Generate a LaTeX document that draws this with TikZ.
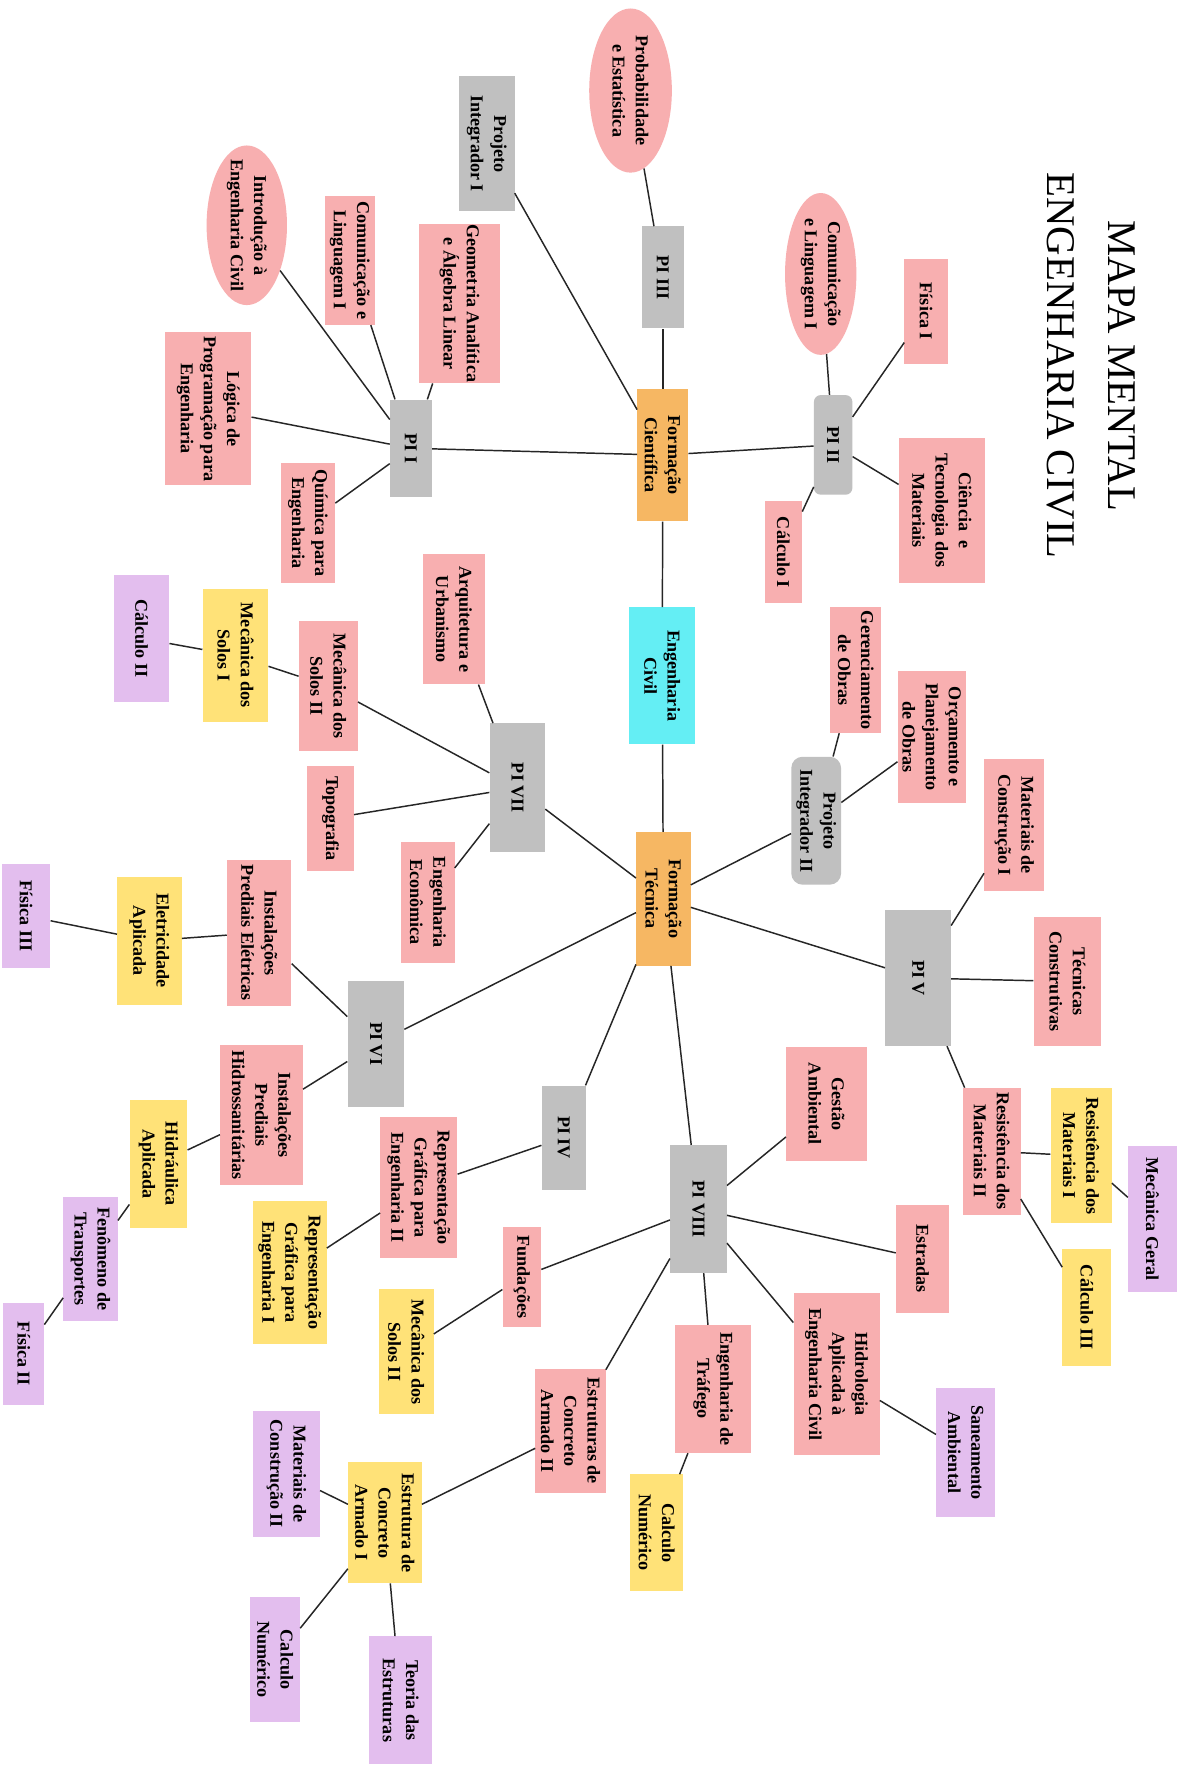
\documentclass[tikz,border=0pt]{standalone}
\usepackage{fontspec}
\setmainfont{Liberation Serif}
\usetikzlibrary{shapes.geometric}
\definecolor{pinkc}{RGB}{248,175,176}
\definecolor{grayc}{RGB}{192,192,192}
\definecolor{orangec}{RGB}{246,183,99}
\definecolor{cyanc}{RGB}{100,238,244}
\definecolor{yellowc}{RGB}{255,226,120}
\definecolor{purplec}{RGB}{227,190,238}
\begin{document}
\begin{tikzpicture}[x=1pt,y=-1pt,
  bx/.style={rectangle, rotate=-90, inner sep=0pt, align=center, font=\bfseries\fontsize{16}{20.5}\selectfont},
  el/.style={ellipse, rotate=-90, inner ysep=0pt, align=center, fill=pinkc, font=\bfseries\fontsize{16}{20.5}\selectfont},
  sz/.style 2 args={minimum height=#1pt, minimum width=#2pt},
  pk/.style={bx, fill=pinkc},
  gr/.style={bx, fill=grayc},
  og/.style={bx, fill=orangec},
  yl/.style={bx, fill=yellowc},
  pu/.style={bx, fill=purplec},
  conn/.style={line width=1.3pt, black!85}]
\useasboundingbox (0,0) rectangle (1053,1568);
\fill[white] (0,0) rectangle (1053,1568);

\node[rotate=-90, align=center, font=\fontsize{36}{54}\selectfont] (title) at (964,323) {MAPA MENTAL\\ENGENHARIA CIVIL};

% centre
\node[bx, fill=cyanc, sz={58}{121}] (ec) at (585,597) {Engenharia\\Civil};
\node[og, sz={45}{117}] (fc) at (585.5,402) {Formação\\Científica};
\node[og, sz={48}{118}] (ft) at (586,794) {Formação\\Técnica};

% Formacao Cientifica
\node[gr, sz={37}{90}] (pi3) at (585.5,245) {PI III};
\node[el, inner xsep=0pt, sz={73}{145}] (prob) at (557,80) {Probabilidade\\e Estatística};
\node[gr, sz={49}{119}] (pi1p) at (430,127) {Projeto\\Integrador I};
\node[gr, rounded corners=6pt, sz={34}{88}] (pi2) at (736,393) {PI II};
\node[gr, sz={37}{86}] (pi1) at (363,396) {PI I};
\node[el, inner xsep=-11pt, sz={71}{141}] (intro) at (218,199) {Introdução à\\Engenharia Civil};
\node[pk, sz={44}{114}] (com1) at (309,230) {Comunicação e\\Linguagem I};
\node[pk, sz={71}{141}] (geo) at (406,268) {Geometria Analítica\\e Álgebra Linear};
\node[pk, sz={76}{135}] (log) at (184,361) {Lógica de\\Programação para\\Engenharia};
\node[pk, sz={48}{106}] (qui) at (272,462) {Química para\\Engenharia};
\node[el, inner xsep=-4pt, sz={63}{143}] (com2) at (725,242) {Comunicação\\e Linguagem I};
\node[pk, sz={38}{93}] (fis1) at (818,275) {Física I};
\node[pk, sz={76}{128}] (cien) at (832,451) {Ciência~~e\\Tecnologia dos\\Materiais};
\node[pk, sz={33}{90}] (calc1) at (692,488) {Cálculo I};

% Formacao Tecnica
\node[gr, rounded corners=10pt, sz={44}{113}] (pi2p) at (721,725) {Projeto\\Integrador II};
\node[pk, sz={45}{111}] (ger) at (756,592) {Gerenciamento\\de Obras};
\node[pk, sz={60}{117}] (orc) at (823,651) {Orçamento e\\Planejamento\\de Obras};
\node[pk, sz={53}{117}] (mat1) at (896,729) {Materiais de\\Construção I};

\node[gr, sz={58}{120}] (pi5) at (811,864) {PI V};
\node[pk, sz={60}{114}] (tec) at (943,867) {Técnicas\\Construtivas};
\node[pk, sz={51}{112}] (res2) at (876,1017) {Resistência dos\\Materiais II};
\node[yl, sz={54}{119}] (res1) at (955,1021) {Resistência dos\\Materiais I};
\node[pu, sz={43}{129}] (mecg) at (1018,1077) {Mecânica Geral};
\node[yl, sz={43}{104}] (calc3) at (960,1155) {Cálculo III};

\node[gr, sz={50}{113}] (pi8) at (617,1068) {PI VIII};
\node[pk, sz={71}{101}] (gest) at (730,975) {Gestão\\Ambiental};
\node[pk, sz={47}{95}] (estr) at (815,1112) {Estradas};
\node[pk, sz={76}{143}] (hidro) at (739,1214) {Hidrologia\\Aplicada à\\Engenharia Civil};
\node[pu, sz={52}{114}] (san) at (853,1283) {Saneamento\\Ambiental};
\node[pk, sz={67}{113}] (traf) at (630,1227) {Engenharia de\\Tráfego};
\node[yl, sz={47}{103}] (cnum1) at (580,1354) {Calculo\\Numérico};
\node[pk, sz={34}{88}] (fund) at (461,1128) {Fundações};
\node[yl, sz={48}{110}] (mso2y) at (359,1194) {Mecânica dos\\Solos II};
\node[pk, sz={62}{110}] (eca2) at (504,1264) {Estruturas de\\Concreto\\Armado II};
\node[yl, sz={65}{107}] (eca1) at (340,1345) {Estrutura de\\Concreto\\Armado I};
\node[pu, sz={59}{112}] (mat2) at (253,1302) {Materiais de\\Construção II};
\node[pu, sz={44}{110}] (cnum2) at (243,1466) {Calculo\\Numérico};
\node[pu, sz={56}{113}] (teo) at (354,1502) {Teoria das\\Estruturas};

\node[gr, sz={39}{92}] (pi4) at (498,1005) {PI IV};
\node[pk, sz={68}{124}] (rep2) at (370,1049) {Representação\\Gráfica para\\Engenharia II};
\node[yl, sz={65}{126}] (rep1) at (256,1124) {Representação\\Gráfica para\\Engenharia I};

\node[gr, sz={50}{111}] (pi6) at (332,922) {PI VI};
\node[pk, sz={57}{129}] (inse) at (229,824) {Instalações\\Prediais Elétricas};
\node[yl, sz={57}{113}] (elet) at (132,831) {Eletricidade\\Aplicada};
\node[pu, sz={43}{92}] (fis3) at (23,809) {Física III};
\node[pk, sz={73}{124}] (insh) at (231,985) {Instalações\\Prediais\\Hidrossanitárias};
\node[yl, sz={51}{113}] (hidra) at (140,1028) {Hidráulica\\Aplicada};
\node[pu, sz={48}{110}] (fen) at (80,1112) {Fenômeno de\\Transportes};
\node[pu, sz={36}{90}] (fis2) at (21,1196) {Física II};

\node[gr, sz={49}{114}] (pi7) at (457,696) {PI VII};
\node[pk, sz={55}{115}] (arq) at (401,547) {Arquitetura e\\Urbanismo};
\node[pk, sz={52}{114}] (mso2p) at (290,606) {Mecânica dos\\Solos II};
\node[yl, sz={58}{118}] (mso1) at (208,579) {Mecânica dos\\Solos I};
\node[pu, sz={49}{112}] (calc2) at (125,564) {Cálculo II};
\node[pk, sz={41}{93}] (topo) at (292,723) {Topografia};
\node[pk, sz={47}{107}] (econ) at (378,797) {Engenharia\\Econômica};

% connectors
\foreach \a/\b in {ec/fc, ec/ft, fc/pi3, pi3/prob, fc/pi1p, fc/pi2, fc/pi1,
  pi1/intro, pi1/com1, pi1/geo, pi1/log, pi1/qui,
  pi2/com2, pi2/fis1, pi2/cien, pi2/calc1,
  ft/pi2p, pi2p/ger, pi2p/orc,
  ft/pi5, pi5/mat1, pi5/tec, pi5/res2, res2/res1, res1/mecg, res2/calc3,
  ft/pi8, pi8/gest, pi8/estr, pi8/hidro, hidro/san, pi8/traf, traf/cnum1,
  pi8/fund, fund/mso2y, pi8/eca2, eca2/eca1, eca1/mat2, eca1/cnum2, eca1/teo,
  ft/pi4, pi4/rep2, rep2/rep1,
  ft/pi6, pi6/inse, inse/elet, elet/fis3, pi6/insh, insh/hidra, hidra/fen, fen/fis2,
  ft/pi7, pi7/arq, pi7/mso2p, mso2p/mso1, mso1/calc2, pi7/topo, pi7/econ}
  \draw[conn] (\a) -- (\b);
\end{tikzpicture}
\end{document}
